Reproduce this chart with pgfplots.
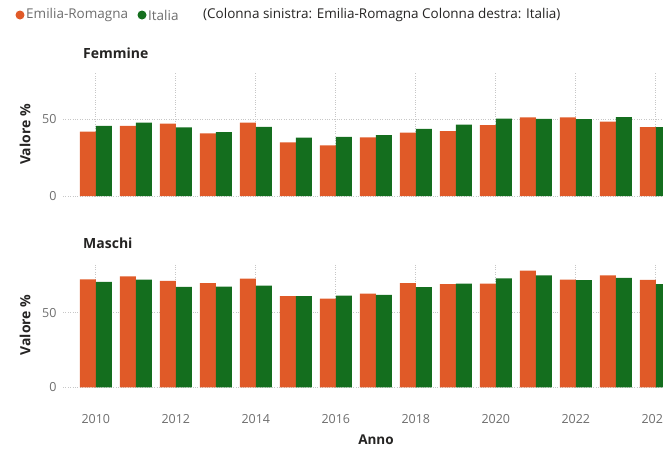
\documentclass[border=0pt]{standalone}
\usepackage{fontspec}
\setmainfont{Open Sans}
\usepackage{pgfplots}
\pgfplotsset{compat=1.18}
\definecolor{er}{RGB}{224,90,40}
\definecolor{it}{RGB}{20,110,30}
\definecolor{tk}{RGB}{110,110,110}
\definecolor{ttl}{RGB}{37,36,35}

\pgfplotstableread{
anno F_er F_it M_er M_it
2010 41.8 45.6 72.3 70.5
2011 45.6 47.8 74.3 72.1
2012 47.0 44.6 71.2 67.2
2013 40.7 41.6 69.7 67.4
2014 47.8 45.0 72.7 68.1
2015 34.9 37.9 61.0 61.0
2016 32.9 38.5 59.4 61.4
2017 38.1 39.6 62.7 61.8
2018 41.3 43.7 69.7 67.0
2019 42.2 46.5 69.0 69.4
2020 46.1 50.4 69.4 73.0
2021 51.1 50.2 78.1 75.0
2022 51.1 50.0 72.1 71.7
2023 48.3 51.3 75.0 73.2
2024 44.8 44.8 71.9 69.0
}\dati

\pgfplotsset{panel/.style={
  scale only axis, width=600pt, anchor=south west,
  xmin=2009.18, xmax=2024.18, ymin=0,
  ybar=0pt, bar width=16pt,
  axis line style={draw=none}, major tick style={draw=none},
  xtick={2010,2012,...,2024}, ytick={0,50},
  xmajorgrids, ymajorgrids,
  grid style={dotted, black!22, line width=0.7pt},
  /pgf/number format/assume math mode=true,
  /pgf/number format/1000 sep={},
  yticklabel style={font=\fontsize{12.5}{14}\selectfont, text=tk, xshift=-3pt},
  xticklabel style={font=\fontsize{12.5}{14}\selectfont, text=tk},
  clip=true,
}}

\begin{document}
\begin{tikzpicture}
% Femmine
\begin{axis}[panel, at={(63pt,-196pt)}, height=123pt, ymax=80, xticklabels={}]
\addplot[fill=er, draw=none] table[x=anno, y=F_er] {\dati};
\addplot[fill=it, draw=none] table[x=anno, y=F_it] {\dati};
\end{axis}
% Maschi
\begin{axis}[panel, at={(63pt,-387.3pt)}, height=124pt, ymax=83,
  xticklabel style={yshift=-19pt}]
\addplot[fill=er, draw=none] table[x=anno, y=M_er] {\dati};
\addplot[fill=it, draw=none] table[x=anno, y=M_it] {\dati};
\end{axis}

\node[rotate=90, text=ttl, font=\fontsize{14}{16}\selectfont\bfseries] at (25pt,-134.5pt) {Valore \%};
\node[rotate=90, text=ttl, font=\fontsize{14}{16}\selectfont\bfseries] at (25pt,-325pt) {Valore \%};
\node[anchor=west, text=ttl, font=\fontsize{14}{16}\selectfont\bfseries, inner sep=0pt] at (83pt,-53pt) {Femmine};
\node[anchor=west, text=ttl, font=\fontsize{14}{16}\selectfont\bfseries, inner sep=0pt] at (83pt,-243pt) {Maschi};
\node[text=ttl, font=\fontsize{13.5}{16}\selectfont\bfseries] at (376pt,-440pt) {Anno};

\fill[er] (20pt,-15pt) circle (4.5pt);
\node[anchor=west, text=tk, font=\fontsize{13.5}{15}\selectfont, inner sep=0pt] at (26pt,-15pt) {Emilia-Romagna};
\fill[it] (142pt,-15pt) circle (4.5pt);
\node[anchor=west, text=tk, font=\fontsize{13.5}{15}\selectfont, inner sep=0pt] at (148pt,-15pt) {Italia};
\node[anchor=west, text=ttl, font=\fontsize{13.5}{15}\selectfont, inner sep=0pt] at (203pt,-15pt) {(Colonna sinistra: Emilia-Romagna Colonna destra: Italia)};

\pgfresetboundingbox
\path[use as bounding box] (0,0) rectangle (663pt,-451pt);
\end{tikzpicture}
\end{document}
